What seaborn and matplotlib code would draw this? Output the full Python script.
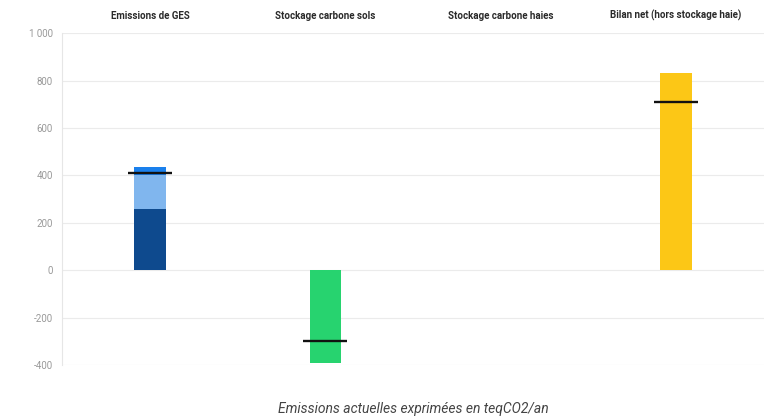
import matplotlib
matplotlib.use("Agg")
import matplotlib.pyplot as plt
import numpy as np
import pandas as pd
import seaborn as sns

categories = ["Emissions de GES", "Stockage carbone sols",
              "Stockage carbone haies", "Bilan net (hors stockage haie)"]
# stacked layers, drawn cumulative (largest first)
total_values = [435, -390, 0, 830]
layer2_values = [400, 0, 0, 0]
layer3_values = [257, 0, 0, 0]
marker_values = [410, -300, 0, 710]
yticks = [-400, -200, 0, 200, 400, 600, 800, 1000]
ytick_labels = ["-400", "-200", "0", "200", "400", "600", "800", "1 000"]

total_colors = ["#1a80ec", "#27d36f", "#d9d9d9", "#fcc716"]
layer2_color = "#80b6ee"
layer3_color = "#0e4a8e"

sns.set_style("white")
plt.rcParams["font.family"] = ["Roboto", "DejaVu Sans"]

fig = plt.figure(figsize=(7.69, 4.19), dpi=100)
ax = fig.add_axes([0.081, 0.129, 0.912, 0.792])

df = pd.DataFrame({"cat": categories, "total": total_values,
                   "l2": layer2_values, "l3": layer3_values})

bar_kw = dict(width=0.18, saturation=1, linewidth=0, edgecolor="none", ax=ax)
sns.barplot(data=df, x="cat", y="total", hue="cat", palette=total_colors,
            order=categories, hue_order=categories, legend=False, **bar_kw)
sub = df[df["l2"] != 0]
sns.barplot(data=sub, x="cat", y="l2", order=categories, color=layer2_color,
            **bar_kw)
sub = df[df["l3"] != 0]
sns.barplot(data=sub, x="cat", y="l3", order=categories, color=layer3_color,
            **bar_kw)

pos = np.arange(len(categories))
for p, v in zip(pos, marker_values):
    if v != 0:
        ax.hlines(v, p - 0.125, p + 0.125, color="#111111", lw=1.7, zorder=5)

ax.set_ylim(-400, 1000)
ax.set_xlim(-0.5, len(categories) - 0.5)
ax.set_yticks(yticks)
ax.set_yticklabels(ytick_labels)
ax.yaxis.grid(True, color="#ebebeb", lw=0.8)
ax.set_axisbelow(True)
for s in ["top", "right", "bottom"]:
    ax.spines[s].set_visible(False)
ax.spines["left"].set_color("#e6e6e6")
ax.tick_params(axis="y", length=4, color="#e0e0e0", labelsize=7,
               labelcolor="#999999", pad=3)

ax.xaxis.tick_top()
ax.set_xticks(pos)
ax.set_xticklabels(categories, fontsize=7, fontweight="bold", color="#2a2a2a")
ax.tick_params(axis="x", length=0, pad=9)
ax.xaxis.set_label_position("bottom")
ax.set_xlabel("Emissions actuelles exprimées en teqCO2/an", fontsize=10,
              style="italic", color="#444444", labelpad=27)
ax.set_ylabel("")

fig.savefig("out.png", dpi=100)
